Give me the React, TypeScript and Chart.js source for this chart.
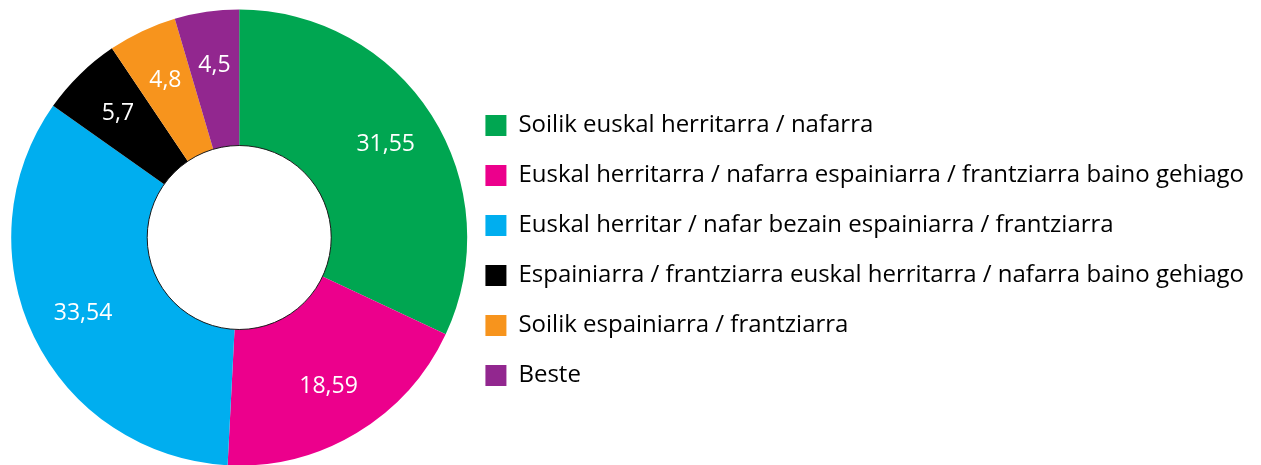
import React, { useEffect, useRef } from "react";
import { Chart, registerables } from "chart.js";

Chart.register(...registerables);

const categories = [
  "Soilik euskal herritarra / nafarra",
  "Euskal herritarra / nafarra espainiarra / frantziarra baino gehiago",
  "Euskal herritar / nafar bezain espainiarra / frantziarra",
  "Espainiarra / frantziarra euskal herritarra / nafarra baino gehiago",
  "Soilik espainiarra / frantziarra",
  "Beste",
];
const values = [31.55, 18.59, 33.54, 5.7, 4.8, 4.5];
const valueLabels = ["31,55", "18,59", "33,54", "5,7", "4,8", "4,5"];
const colors = ["#00A651", "#EC008C", "#00AEEF", "#000000", "#F7941D", "#92278F"];

const FONT = "'Open Sans', 'Noto Sans', sans-serif";

const sliceLabels = {
  id: "sliceLabels",
  afterDatasetsDraw(chart: any) {
    const meta = chart.getDatasetMeta(0);
    const ctx = chart.ctx;
    ctx.save();
    const first = meta.data[0];
    if (first) {
      const p = first.getProps(["x", "y", "innerRadius"], true);
      ctx.beginPath();
      ctx.arc(p.x, p.y, p.innerRadius, 0, Math.PI * 2);
      ctx.lineWidth = 1;
      ctx.strokeStyle = "#1a1a1a";
      ctx.stroke();
    }
    ctx.fillStyle = "#ffffff";
    ctx.font = `23px ${FONT}`;
    ctx.textAlign = "center";
    ctx.textBaseline = "middle";
    meta.data.forEach((arc: any, i: number) => {
      const p = arc.getProps(["x", "y", "startAngle", "endAngle", "innerRadius", "outerRadius"], true);
      const mid = (p.startAngle + p.endAngle) / 2;
      const r = p.innerRadius + (p.outerRadius - p.innerRadius) * 0.6;
      ctx.fillText(valueLabels[i], p.x + Math.cos(mid) * r, p.y + Math.sin(mid) * r);
    });
    ctx.restore();
  },
};

export default function App() {
  const ref = useRef<HTMLCanvasElement | null>(null);
  useEffect(() => {
    if (!ref.current) return;
    const chart = new Chart(ref.current, {
      type: "doughnut",
      data: {
        labels: categories,
        datasets: [
          {
            data: values,
            backgroundColor: colors,
            borderWidth: 0,
            radius: 228,
            cutout: "40.35%",
            clip: false,
          } as any,
        ],
      },
      options: {
        responsive: false,
        animation: false,
        layout: { padding: { left: 19, right: 7, top: 10, bottom: 0 } },
        plugins: {
          tooltip: { enabled: false },
          legend: {
            position: "right",
            align: "center",
            maxWidth: 900,
            title: { display: true, text: "", font: { size: 26, lineHeight: 1 } },
            labels: {
              boxWidth: 21,
              boxHeight: 21,
              padding: 26,
              color: "#000000",
              font: { family: FONT, size: 24 },
            },
          } as any,
        },
      },
      plugins: [sliceLabels],
    });
    return () => chart.destroy();
  }, []);
  return (
    <div style={{ position: "absolute", left: 0, top: 0, width: 1261, height: 465, background: "#fff" }}>
      <canvas ref={ref} width={1261} height={465} />
    </div>
  );
}
